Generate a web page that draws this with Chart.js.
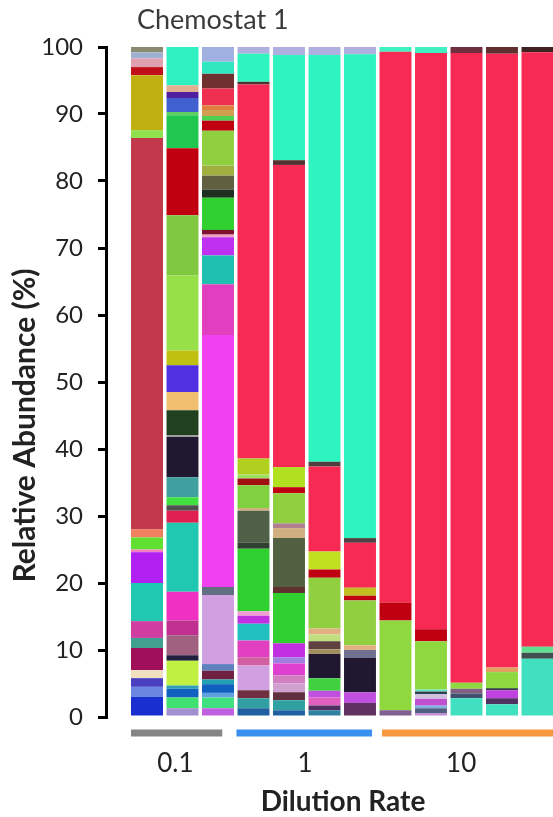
<!DOCTYPE html>
<html>
<head>
<meta charset="utf-8">
<script src="https://cdn.jsdelivr.net/npm/chart.js@4.4.1/dist/chart.umd.min.js"></script>
<style>
  body { margin: 0; background: #fff; overflow: hidden; }
  canvas { display: block; }
</style>
</head>
<body>
<canvas id="abundancia" width="553" height="817"></canvas>
<script>
// Abundancia relativa por muestra, segmentos de abajo hacia arriba (%)
const titulo = "Chemostat 1";
const tituloY = "Relative Abundance (%)";
const tituloX = "Dilution Rate";
const rateLabels = ["0.1", "1", "10"];
const yTicks = [0, 10, 20, 30, 40, 50, 60, 70, 80, 90, 100];

const bar01 = [3.0, 1.5, 1.3, 1.2, 3.3, 1.5, 2.5, 5.7, 4.6, 0.4, 1.8, 1.2, 58.4, 1.2, 8.2, 1.2, 1.3, 0.9, 0.8];
const bar02 = [1.3, 1.6, 1.3, 0.5, 3.7, 0.8, 3.0, 2.2, 4.3, 10.3, 1.8, 0.8, 1.2, 3.0, 6.0, 0.3, 3.7, 2.7, 4.0, 2.2, 11.2, 9.0, 10.0, 4.9, 0.5, 2.1, 0.9, 1.0, 5.7];
const bar03 = [1.3, 1.6, 0.7, 1.3, 0.7, 1.3, 1.0, 10.3, 1.2, 37.6, 7.6, 4.3, 2.7, 0.4, 0.7, 4.8, 1.2, 2.1, 1.5, 5.2, 1.5, 0.7, 0.9, 0.7, 2.5, 2.2, 1.8, 2.2];
const bar04 = [1.3, 1.5, 1.2, 3.7, 1.2, 2.5, 2.5, 1.2, 0.7, 9.3, 0.9, 4.8, 0.4, 3.4, 1.0, 0.6, 2.4, 55.8, 0.4, 4.2, 1.0];
const bar05 = [1.0, 1.5, 1.2, 1.3, 1.2, 1.8, 0.9, 2.1, 7.5, 0.9, 7.3, 1.5, 0.7, 4.5, 0.9, 3.0, 45.1, 0.7, 15.7, 1.2];
const bar06 = [1.0, 0.7, 1.2, 1.0, 1.9, 3.6, 0.7, 1.2, 1.0, 0.9, 7.6, 1.2, 2.7, 12.7, 0.7, 60.7, 1.2];
const bar07 = [2.1, 1.6, 5.1, 1.2, 0.7, 6.7, 0.7, 1.2, 6.7, 0.7, 72.2, 1.1];
const bar08 = [1.0, 13.4, 2.7, 82.2, 0.7];
const bar09 = [0.6, 0.7, 0.4, 1.0, 0.7, 0.4, 0.3, 7.2, 1.8, 86.0, 0.9];
const bar10 = [2.8, 0.7, 0.7, 0.9, 94.0, 0.9];
const bar11 = [1.9, 0.9, 1.2, 0.3, 2.4, 0.7, 91.6, 1.0];
const bar12 = [8.7, 0.9, 0.9, 88.7, 0.8];

const col01 = ['#1a2fd0','#6a86e0','#4a3fc0','#f0e0c0','#a0105a','#40a090','#d03ca0','#20c8b0','#b020f0','#f080c0','#60e030','#f08060','#c0384a','#90e050','#c0b010','#c01018','#e0a0b0','#a0b0d0','#8a8a70'];
const col02 = ['#a090d0','#40e070','#1060c0','#30a0b0','#c0f040','#202040','#a06080','#c03090','#f030c0','#20c8b0','#e02050','#505050','#40e040','#40a0a0','#201830','#a0a0a0','#204020','#f0c070','#5030e0','#c0c010','#98e048','#80c840','#c00010','#20c850','#60d060','#4060d0','#5020a0','#e0b090','#2ef0c0'];
const col03 = ['#c060e0','#40e080','#60a0e0','#1060c0','#20a0b0','#702040','#6080c0','#d0a0e0','#607080','#f040f0','#e040c0','#20c0b0','#c030f0','#f0a0c0','#801030','#30d030','#203020','#606040','#a0b040','#90d040','#c00010','#50d050','#d0a050','#e08040','#f03050','#703030','#30e8c0','#a0b0e0'];
const col04 = ['#2060a0','#30a0a0','#703040','#d0a0e0','#d060a0','#e040c0','#20c0c0','#c030e0','#f0a0d0','#30d030','#304030','#506048','#d0b080','#80d040','#a01010','#a0e060','#b0d020','#f62a52','#503030','#2ef5c0','#b0b0e0'];
const col05 = ['#2060a0','#30a0a0','#603040','#d0a0d0','#d080c0','#e040d0','#a080e0','#c030e0','#30d030','#603030','#506040','#d0b080','#b08090','#90d040','#c00010','#b0e020','#f62a52','#503030','#2ef5c0','#b0b0e0'];
const col06 = ['#3080a0','#503060','#e060c0','#c050e0','#40d040','#201830','#a09060','#604040','#c0e080','#e0b080','#90d040','#c00010','#c0e020','#f62a52','#504040','#2ef5c0','#b0b0e0'];
const col07 = ['#603060','#c050e0','#201830','#707090','#e0b080','#90d040','#c00010','#c0c020','#f62a52','#504040','#2ef5c0','#b0b0e0'];
const col08 = ['#806090','#90d840','#c00010','#f62a52','#40f0c0'];
const col09 = ['#c090d0','#506080','#80b0e0','#c050d0','#d0c0e0','#304050','#60e0c0','#90d840','#c00010','#f62a52','#40f0c0'];
const col10 = ['#40e0c0','#405070','#806080','#90d840','#f62a52','#703040'];
const col11 = ['#40e0c0','#503060','#c040e0','#304040','#90d840','#e0a060','#f62a52','#603030'];
const col12 = ['#40e0c0','#405050','#60e090','#f62a52','#402020'];

const barras = [bar01, bar02, bar03, bar04, bar05, bar06, bar07, bar08, bar09, bar10, bar11, bar12];
const colores = [col01, col02, col03, col04, col05, col06, col07, col08, col09, col10, col11, col12];

// posiciones de las etiquetas de grupo y barras de color, en unidades del eje x
const rateTickAt = [0.8, 4.45, 8.85];
const rateSpans = [[-0.45, 2.12], [2.52, 6.34], [6.62, 11.6]];
const rateColors = ['#858585', '#3a90ee', '#f7983e'];

const maxSeg = Math.max(...barras.map(b => b.length));
const datasets = [];
for (let k = 0; k < maxSeg; k++) {
  datasets.push({
    data: barras.map((b, i) => ({x: i, y: b[k] ?? 0})),
    backgroundColor: colores.map(c => c[k] ?? '#fff'),
    borderWidth: 0,
    barPercentage: 0.9,
    categoryPercentage: 1
  });
}

const decoracion = {
  id: 'decoracion',
  afterDraw(chart) {
    const c = chart.ctx;
    const x = chart.scales.x;
    const y = chart.scales.y;
    const base = chart.chartArea.bottom;
    c.save();
    c.font = '27px Lato';
    c.fillStyle = '#3a3a3a';
    c.textBaseline = 'alphabetic';
    c.fillText(titulo, 137, 29);
    c.lineWidth = 7;
    rateSpans.forEach((s, i) => {
      c.strokeStyle = rateColors[i];
      c.beginPath();
      c.moveTo(x.getPixelForValue(s[0]), base + 16);
      c.lineTo(x.getPixelForValue(s[1]), base + 16);
      c.stroke();
    });
    // etiquetas de grupo y titulo del eje x
    c.fillStyle = '#222';
    c.textAlign = 'center';
    c.font = '26px Lato';
    rateLabels.forEach((t, i) => c.fillText(t, x.getPixelForValue(rateTickAt[i]), base + 55));
    c.font = 'bold 28px Lato';
    c.fillText(tituloX, 343, base + 94);
    // titulo del eje y, centrado cerca de 43.5 %
    c.translate(25, y.getPixelForValue(43.5));
    c.rotate(-Math.PI / 2);
    c.font = 'bold 30px Lato';
    c.textBaseline = 'middle';
    c.fillText(tituloY, 0, 0);
    c.restore();
  }
};

const ctx = document.getElementById('abundancia').getContext('2d');
const grafico = new Chart(ctx, {
  type: 'bar',
  data: { datasets },
  options: {
    responsive: false,
    animation: false,
    devicePixelRatio: 1,
    layout: { padding: { top: 47, left: 0, right: 0, bottom: 100 } },
    plugins: { legend: { display: false }, tooltip: { enabled: false } },
    scales: {
      x: {
        type: 'linear',
        stacked: true,
        offset: false,
        min: -1.155,
        max: 11.437,
        display: false
      },
      y: {
        stacked: true,
        min: 0,
        max: 100,
        afterFit: s => { s.width = 106; },
        afterBuildTicks: s => { s.ticks = yTicks.map(v => ({value: v})); },
        grid: { drawOnChartArea: false, drawTicks: true, tickLength: 8, color: '#000', lineWidth: 3 },
        border: { display: true, color: '#000', width: 3 },
        ticks: {
          padding: 15,
          color: '#222',
          font: { family: 'Lato', size: 24 }
        }
      }
    }
  },
  plugins: [decoracion]
});
</script>
</body>
</html>
